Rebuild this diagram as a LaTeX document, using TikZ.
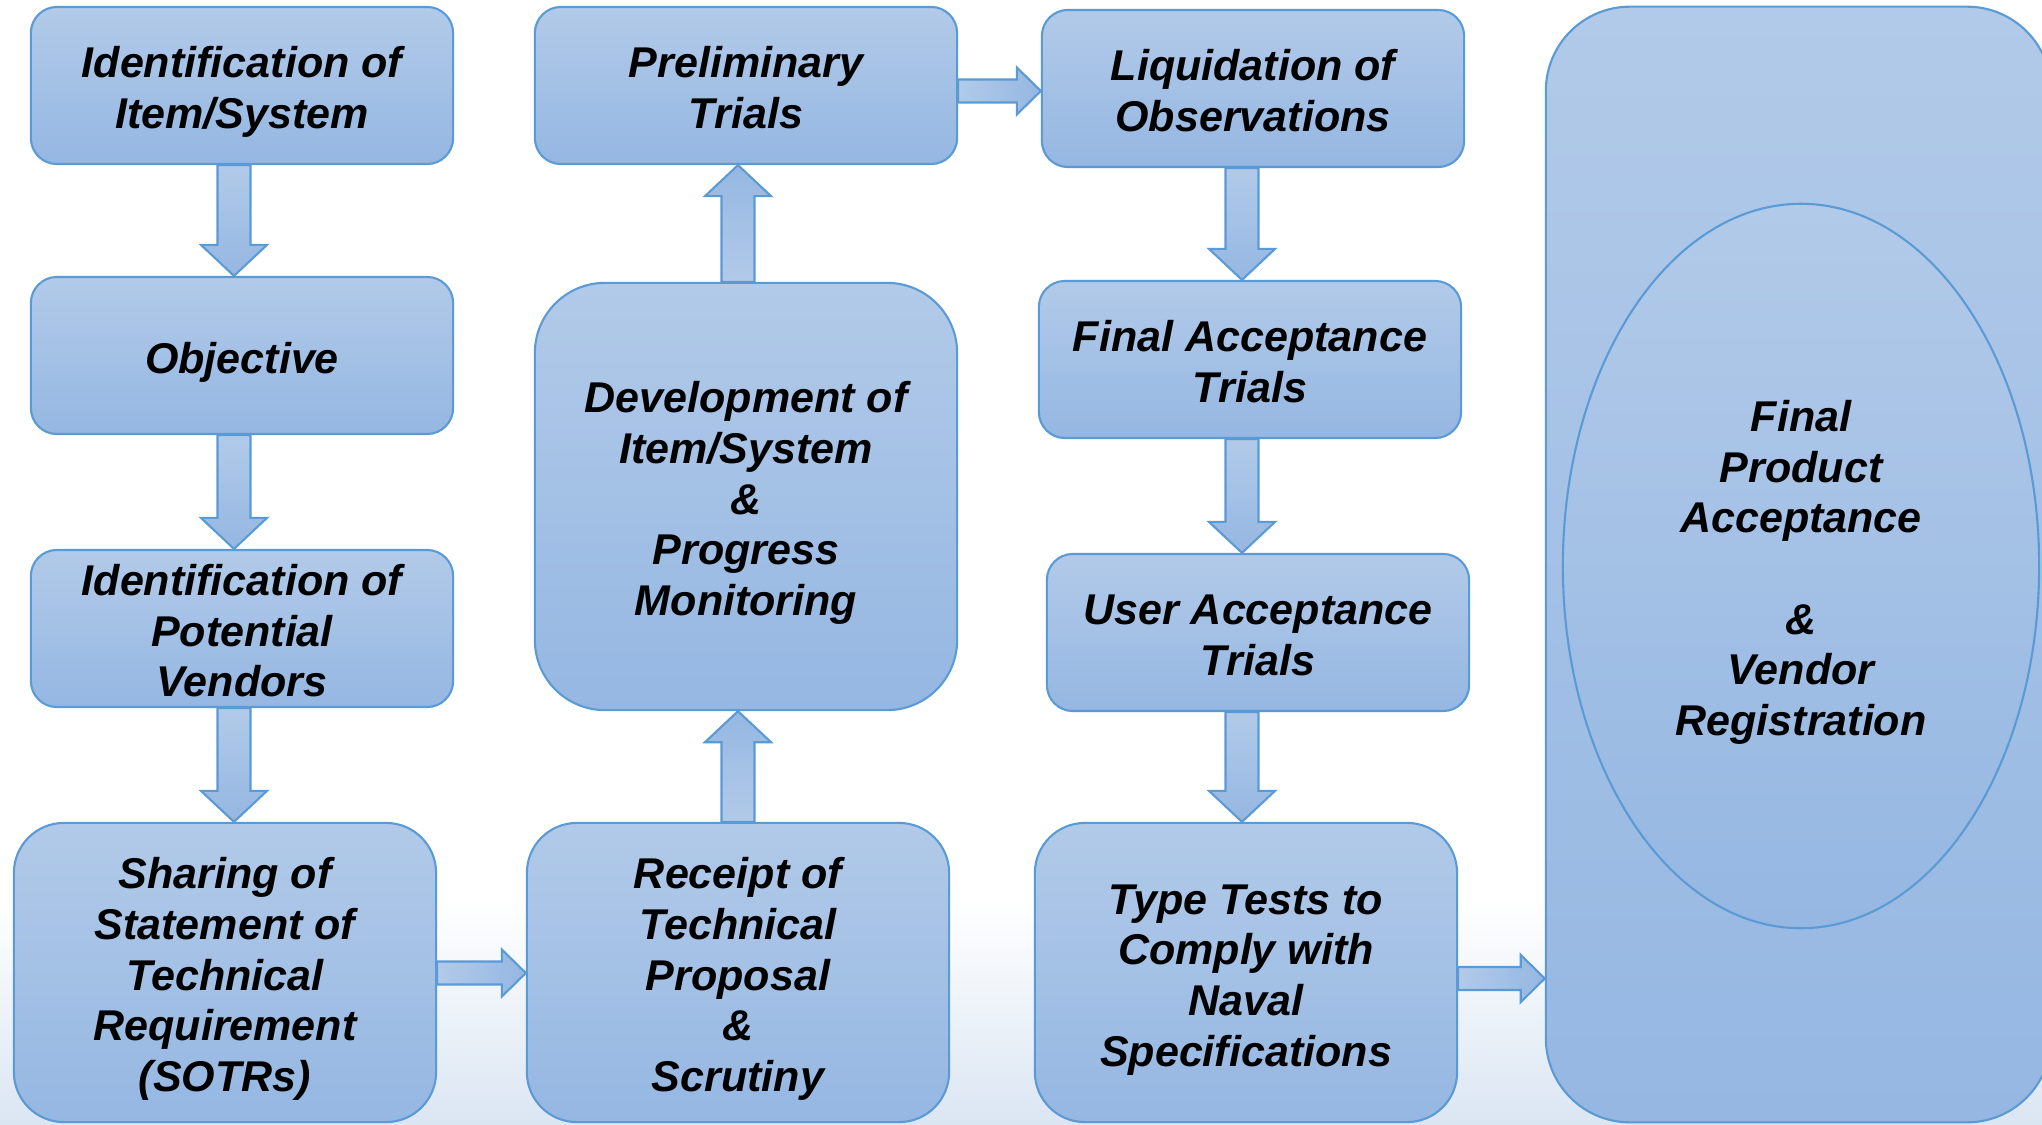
\documentclass[tikz,border=0pt]{standalone}
\usepackage{fontspec}
\setmainfont{Liberation Sans}
\usetikzlibrary{calc,shapes.geometric}

\definecolor{boxline}{RGB}{91,155,213}
\definecolor{boxtop}{RGB}{178,202,233}
\definecolor{boxbot}{RGB}{149,183,226}
\definecolor{bgblue}{RGB}{219,230,243}

\newcommand\lead{\rule{0pt}{1.03em}}
\newcommand\tail{\rule[-0.212em]{0pt}{0.212em}}

\tikzset{
  stage/.style={draw=boxline, line width=0.6pt, top color=boxtop, bottom color=boxbot,
    rounded corners=0.26cm, minimum width=4.22cm, minimum height=1.57cm, inner sep=0pt,
    align=center, font=\fontsize{12.24pt}{14.4pt}\selectfont\bfseries\itshape},
  tall/.style={rounded corners=0.5cm, minimum height=2.99cm},
  blockarrow/.style={draw=boxline, line width=0.6pt},
}

\newcommand\downblock[2]{%
  \path[blockarrow, top color=boxtop, bottom color=boxbot] let \p1=#1, \p2=#2 in
    (\x1-0.165cm,\y1) -- (\x1+0.165cm,\y1) -- (\x1+0.165cm,\y2+0.31cm) -- (\x1+0.33cm,\y2+0.31cm)
    -- (\x1,\y2) -- (\x1-0.33cm,\y2+0.31cm) -- (\x1-0.165cm,\y2+0.31cm) -- cycle;}
\newcommand\upblock[2]{%
  \path[blockarrow, top color=boxbot, bottom color=boxtop] let \p1=#1, \p2=#2 in
    (\x1-0.165cm,\y1) -- (\x1+0.165cm,\y1) -- (\x1+0.165cm,\y2-0.31cm) -- (\x1+0.33cm,\y2-0.31cm)
    -- (\x1,\y2) -- (\x1-0.33cm,\y2-0.31cm) -- (\x1-0.165cm,\y2-0.31cm) -- cycle;}
\newcommand\rightblock[2]{%
  \path[blockarrow, left color=boxtop, right color=boxbot] let \p1=#1, \p2=#2 in
    (\x1,\y1+0.115cm) -- (\x1,\y1-0.115cm) -- (\x2-0.24cm,\y1-0.115cm) -- (\x2-0.24cm,\y1-0.235cm)
    -- (\x2,\y1) -- (\x2-0.24cm,\y1+0.235cm) -- (\x2-0.24cm,\y1+0.115cm) -- cycle;}

\begin{document}
\begin{tikzpicture}[x=0.01cm, y=-0.01cm]

  \useasboundingbox (0,0) rectangle (2042,1124);
  \fill[white] (0,0) rectangle (2042,1124);
  \shade[top color=white, bottom color=bgblue] (0,900) rectangle (2042,1124);

  \node[stage] (I) at (242,85.5) {\lead Identification of\\Item/System\tail};
  \node[stage] (O) at (242,355.5) {\lead Objective\tail};
  \node[stage] (V) at (242,628.5) {\lead Identification of\\Potential\\Vendors\tail};
  \node[stage, tall] (S) at (225,972.5) {\lead Sharing of\\Statement of\\Technical\\Requirement\\(SOTRs)\tail};

  \node[stage, tall] (R) at (738,972.5) {\lead Receipt of\\Technical\\Proposal\\\&\\Scrutiny\tail};
  \node[stage, rounded corners=0.7cm, minimum height=4.27cm] (D) at (746,496.5)
    {\lead Development of\\Item/System\\\&\\Progress\\Monitoring\tail};
  \node[stage] (P) at (746,85.5) {\lead Preliminary\\Trials\tail};

  \node[stage] (L) at (1253,88.5) {\lead Liquidation of\\Observations\tail};
  \node[stage] (F) at (1250,359.5) {\lead Final Acceptance\\Trials\tail};
  \node[stage] (U) at (1258,632.5) {\lead User Acceptance\\Trials\tail};
  \node[stage, tall] (T) at (1246,972.5) {\lead Type Tests to\\Comply with\\Naval\\Specifications\tail};

  \node[stage, rounded corners=0.84cm, minimum width=5.05cm, minimum height=11.15cm] (A) at (1798.5,564.5) {};
  \node[stage, ellipse, minimum width=4.76cm, minimum height=7.24cm] (E) at (1801,566)
    {\lead Final\\Product\\Acceptance\\\mbox{}\\\&\\Vendor\\Registration\tail};

  \coordinate (c1) at (234,0);
  \coordinate (c2) at (738,0);
  \coordinate (c3) at (1242,0);
  \coordinate (r1) at (0,91);
  \coordinate (r2) at (0,973);
  \coordinate (r3) at (0,978.5);

  \downblock{(I.south -| c1)}{(O.north -| c1)}
  \downblock{(O.south -| c1)}{(V.north -| c1)}
  \downblock{(V.south -| c1)}{(S.north -| c1)}
  \rightblock{(S.east |- r2)}{(R.west |- r2)}
  \upblock{(R.north -| c2)}{(D.south -| c2)}
  \upblock{(D.north -| c2)}{(P.south -| c2)}
  \rightblock{(P.east |- r1)}{(L.west |- r1)}
  \downblock{(L.south -| c3)}{(F.north -| c3)}
  \downblock{(F.south -| c3)}{(U.north -| c3)}
  \downblock{(U.south -| c3)}{(T.north -| c3)}
  \rightblock{(T.east |- r3)}{(A.west |- r3)}

\end{tikzpicture}
\end{document}
